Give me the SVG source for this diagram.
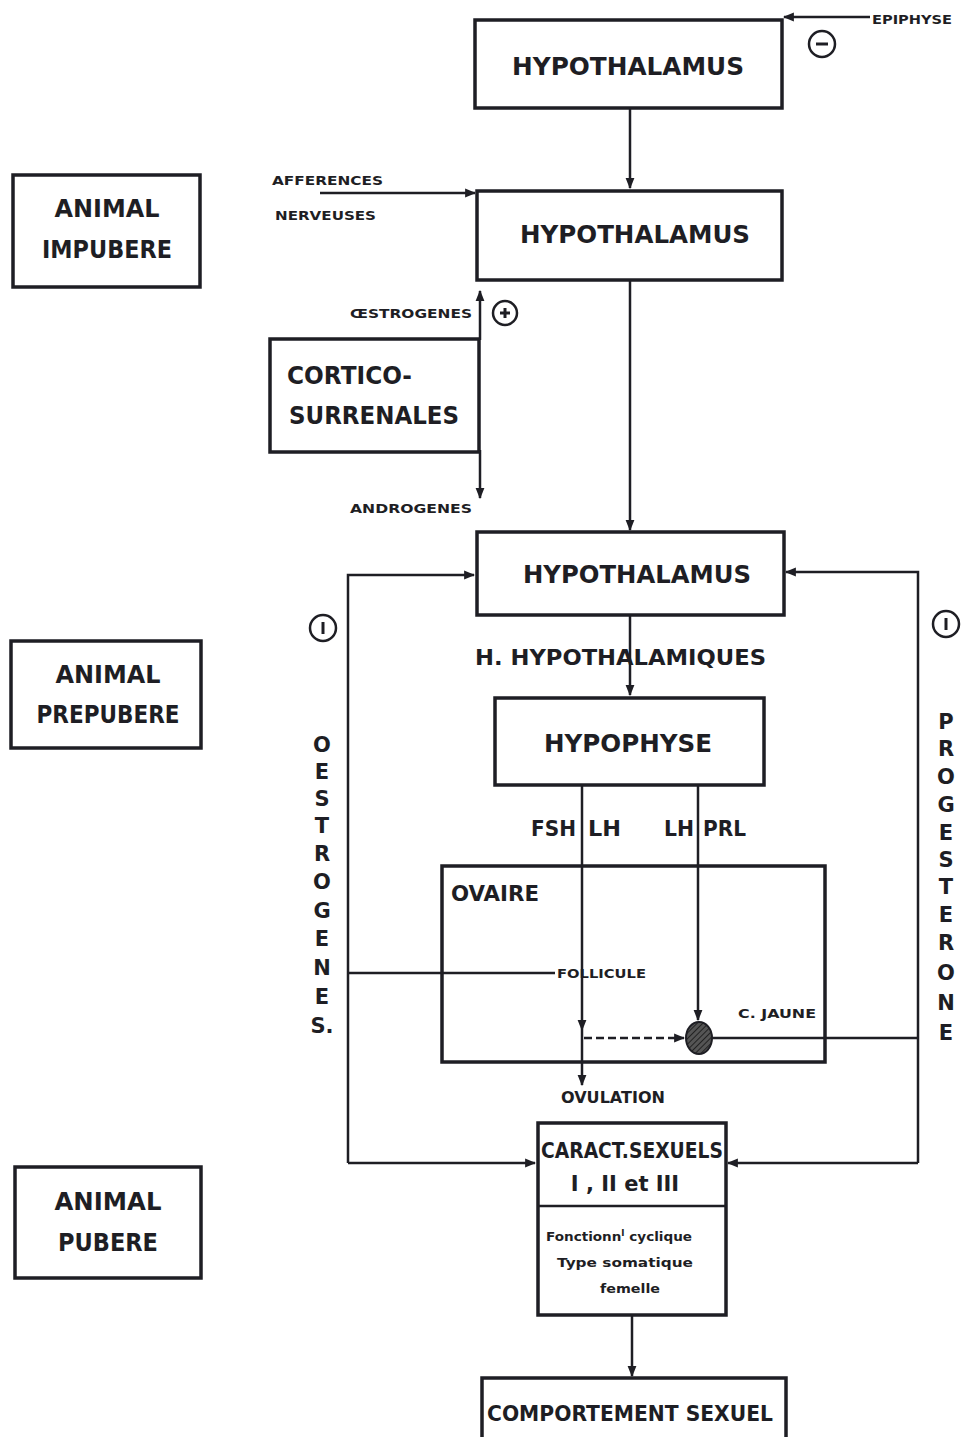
<svg xmlns="http://www.w3.org/2000/svg" width="962" height="1437" viewBox="0 0 962 1437">
<style>
.box{fill:none;stroke:#1e1e24;stroke-width:3.5}
.ln{fill:none;stroke:#1e1e24;stroke-width:2.5}
.t{font-family:"DejaVu Sans","Liberation Sans",sans-serif;font-weight:bold;fill:#1e1e24}
.big{font-size:25px}
.mid{font-size:21px}
.sm{font-size:15px}
.xs{font-size:13px}
.circ{fill:#fff;stroke:#1e1e24;stroke-width:2.5}
</style>
<defs>
<marker id="ah" viewBox="0 0 10 10" refX="9" refY="5" markerWidth="11" markerHeight="11" markerUnits="userSpaceOnUse" orient="auto">
<path d="M0,1 L10,5 L0,9 Z" fill="#1e1e24"/>
</marker>
<pattern id="hatch" width="4" height="4" patternUnits="userSpaceOnUse" patternTransform="rotate(45)">
<rect width="4" height="4" fill="#555"/>
<line x1="0" y1="0" x2="0" y2="4" stroke="#222" stroke-width="2"/>
</pattern>
</defs>
<rect width="962" height="1437" fill="#fff"/>

<g id="connectors">
<!-- epiphyse -->
<line class="ln" x1="870" y1="17" x2="784" y2="17" marker-end="url(#ah)"/>
<!-- hypo1 -> hypo2 -->
<line class="ln" x1="630" y1="108" x2="630" y2="188" marker-end="url(#ah)"/>
<!-- afferences -->
<line class="ln" x1="320" y1="193" x2="475" y2="193" marker-end="url(#ah)"/>
<!-- hypo2 -> hypo3 -->
<line class="ln" x1="630" y1="280" x2="630" y2="530" marker-end="url(#ah)"/>
<!-- oestrogenes / androgenes -->
<line class="ln" x1="480" y1="340" x2="480" y2="291" marker-end="url(#ah)"/>
<line class="ln" x1="480" y1="450" x2="480" y2="498" marker-end="url(#ah)"/>
<!-- hypo3 -> hypophyse -->
<line class="ln" x1="630" y1="615" x2="630" y2="695" marker-end="url(#ah)"/>
<!-- FSH LH line -->
<line class="ln" x1="582" y1="785" x2="582" y2="1030" marker-end="url(#ah)"/>
<line class="ln" x1="582" y1="1030" x2="582" y2="1085" marker-end="url(#ah)"/>
<!-- LH PRL line -->
<line class="ln" x1="698" y1="785" x2="698" y2="1020" marker-end="url(#ah)"/>
<!-- dashed follicle -> corpus -->
<line class="ln" x1="584" y1="1038" x2="684" y2="1038" stroke-dasharray="8,4" marker-end="url(#ah)"/>
<!-- oestrogen feedback left -->
<polyline class="ln" points="555,973 348,973"/>
<polyline class="ln" points="348,1163 348,575 474,575" marker-end="url(#ah)"/>
<line class="ln" x1="348" y1="1163" x2="535" y2="1163" marker-end="url(#ah)"/>
<!-- progesterone feedback right -->
<polyline class="ln" points="712,1038 918,1038"/>
<polyline class="ln" points="918,1163 918,572 786,572" marker-end="url(#ah)"/>
<line class="ln" x1="918" y1="1163" x2="728" y2="1163" marker-end="url(#ah)"/>
<!-- caract -> comportement -->
<line class="ln" x1="632" y1="1315" x2="632" y2="1376" marker-end="url(#ah)"/>
</g>

<g id="hypothalamus1">
<rect class="box" x="475" y="20" width="307" height="88"/>
<text class="t big" x="628" y="75" text-anchor="middle" textLength="232" lengthAdjust="spacingAndGlyphs">HYPOTHALAMUS</text>
</g>
<g id="epiphyse">
<text class="t xs" x="872" y="24" textLength="80" lengthAdjust="spacingAndGlyphs">EPIPHYSE</text>
<circle class="circ" cx="822" cy="44" r="13"/>
<line x1="816" y1="44" x2="828" y2="44" stroke="#1e1e24" stroke-width="3"/>
</g>

<g id="hypothalamus2">
<rect class="box" x="477" y="191" width="305" height="89"/>
<text class="t big" x="635" y="243" text-anchor="middle" textLength="230" lengthAdjust="spacingAndGlyphs">HYPOTHALAMUS</text>
</g>
<g id="afferences">
<text class="t xs" x="272" y="185" textLength="111" lengthAdjust="spacingAndGlyphs">AFFERENCES</text>
<text class="t xs" x="275" y="220" textLength="101" lengthAdjust="spacingAndGlyphs">NERVEUSES</text>
</g>

<g id="cortico">
<rect class="box" x="270" y="339" width="209" height="113"/>
<text class="t big" x="287" y="384" textLength="125" lengthAdjust="spacingAndGlyphs">CORTICO-</text>
<text class="t big" x="289" y="424" textLength="170" lengthAdjust="spacingAndGlyphs">SURRENALES</text>
</g>
<g id="oestrogenes-label">
<text class="t xs" x="472" y="318" text-anchor="end" textLength="122" lengthAdjust="spacingAndGlyphs">ŒSTROGENES</text>
<circle class="circ" cx="505" cy="313" r="12"/>
<line x1="500" y1="313" x2="510" y2="313" stroke="#1e1e24" stroke-width="3"/>
<line x1="505" y1="308" x2="505" y2="318" stroke="#1e1e24" stroke-width="3"/>
<text class="t xs" x="472" y="513" text-anchor="end" textLength="122" lengthAdjust="spacingAndGlyphs">ANDROGENES</text>
</g>

<g id="hypothalamus3">
<rect class="box" x="477" y="532" width="307" height="83"/>
<text class="t big" x="637" y="583" text-anchor="middle" textLength="228" lengthAdjust="spacingAndGlyphs">HYPOTHALAMUS</text>
</g>
<g id="h-hypothalamiques">
<text class="t mid" x="475" y="665" textLength="291" lengthAdjust="spacingAndGlyphs">H. HYPOTHALAMIQUES</text>
</g>

<g id="hypophyse">
<rect class="box" x="495" y="698" width="269" height="87"/>
<text class="t big" x="628" y="752" text-anchor="middle" textLength="168" lengthAdjust="spacingAndGlyphs">HYPOPHYSE</text>
</g>
<g id="hormones">
<text class="t mid" x="576" y="836" text-anchor="end" textLength="45" lengthAdjust="spacingAndGlyphs">FSH</text>
<text class="t mid" x="588" y="836" textLength="33" lengthAdjust="spacingAndGlyphs">LH</text>
<text class="t mid" x="694" y="836" text-anchor="end" textLength="30" lengthAdjust="spacingAndGlyphs">LH</text>
<text class="t mid" x="703" y="836" textLength="43" lengthAdjust="spacingAndGlyphs">PRL</text>
</g>

<g id="ovaire">
<rect class="box" x="442" y="866" width="383" height="196"/>
<text class="t mid" x="451" y="901" textLength="88" lengthAdjust="spacingAndGlyphs">OVAIRE</text>
<text class="t xs" x="557" y="978" textLength="89" lengthAdjust="spacingAndGlyphs">FOLLICULE</text>
<text class="t xs" x="738" y="1018" textLength="78" lengthAdjust="spacingAndGlyphs">C. JAUNE</text>
</g>
<g id="corps-jaune">
<ellipse cx="699" cy="1038" rx="13" ry="16" fill="url(#hatch)" stroke="#1e1e24" stroke-width="2"/>
</g>
<g id="ovulation">
<text class="t sm" x="613" y="1103" text-anchor="middle" textLength="104" lengthAdjust="spacingAndGlyphs">OVULATION</text>
</g>

<g id="oestrogenes-feedback">
<circle class="circ" cx="323" cy="628" r="13"/>
<line x1="323" y1="622" x2="323" y2="634" stroke="#1e1e24" stroke-width="3"/>
<text class="t mid" text-anchor="middle">
<tspan x="322" y="752">O</tspan><tspan x="322" y="779">E</tspan><tspan x="322" y="806">S</tspan><tspan x="322" y="833">T</tspan><tspan x="322" y="861">R</tspan><tspan x="322" y="889">O</tspan><tspan x="322" y="918">G</tspan><tspan x="322" y="946">E</tspan><tspan x="322" y="975">N</tspan><tspan x="322" y="1004">E</tspan><tspan x="322" y="1033">S.</tspan>
</text>
</g>

<g id="progesterone-feedback">
<circle class="circ" cx="946" cy="624" r="13"/>
<line x1="946" y1="618" x2="946" y2="630" stroke="#1e1e24" stroke-width="3"/>
<text class="t mid" text-anchor="middle">
<tspan x="946" y="729">P</tspan><tspan x="946" y="756">R</tspan><tspan x="946" y="784">O</tspan><tspan x="946" y="812">G</tspan><tspan x="946" y="840">E</tspan><tspan x="946" y="867">S</tspan><tspan x="946" y="894">T</tspan><tspan x="946" y="922">E</tspan><tspan x="946" y="950">R</tspan><tspan x="946" y="980">O</tspan><tspan x="946" y="1010">N</tspan><tspan x="946" y="1040">E</tspan>
</text>
</g>

<g id="caract">
<rect class="box" x="538" y="1123" width="188" height="192"/>
<line class="ln" x1="538" y1="1206" x2="726" y2="1206"/>
<text class="t mid" x="632" y="1158" text-anchor="middle" textLength="182" lengthAdjust="spacingAndGlyphs">CARACT.SEXUELS</text>
<text class="t mid" x="625" y="1191" text-anchor="middle" font-family="Liberation Serif,serif">I , II et III</text>
<text class="t xs" x="619" y="1241" text-anchor="middle" textLength="146" lengthAdjust="spacingAndGlyphs">Fonctionn<tspan dy="-5" font-size="9">l</tspan><tspan dy="5">  cyclique</tspan></text>
<text class="t xs" x="625" y="1267" text-anchor="middle" textLength="136" lengthAdjust="spacingAndGlyphs">Type somatique</text>
<text class="t xs" x="630" y="1293" text-anchor="middle" textLength="60" lengthAdjust="spacingAndGlyphs">femelle</text>
</g>

<g id="comportement">
<rect class="box" x="482" y="1378" width="304" height="70"/>
<text class="t mid" x="630" y="1421" text-anchor="middle" textLength="286" lengthAdjust="spacingAndGlyphs">COMPORTEMENT SEXUEL</text>
</g>

<g id="animal-impubere">
<rect class="box" x="13" y="175" width="187" height="112"/>
<text class="t big" x="107" y="217" text-anchor="middle" textLength="105" lengthAdjust="spacingAndGlyphs">ANIMAL</text>
<text class="t big" x="107" y="258" text-anchor="middle" textLength="130" lengthAdjust="spacingAndGlyphs">IMPUBERE</text>
</g>
<g id="animal-prepubere">
<rect class="box" x="11" y="641" width="190" height="107"/>
<text class="t big" x="108" y="683" text-anchor="middle" textLength="105" lengthAdjust="spacingAndGlyphs">ANIMAL</text>
<text class="t big" x="108" y="723" text-anchor="middle" textLength="143" lengthAdjust="spacingAndGlyphs">PREPUBERE</text>
</g>
<g id="animal-pubere">
<rect class="box" x="15" y="1167" width="186" height="111"/>
<text class="t big" x="108" y="1210" text-anchor="middle" textLength="107" lengthAdjust="spacingAndGlyphs">ANIMAL</text>
<text class="t big" x="108" y="1251" text-anchor="middle" textLength="100" lengthAdjust="spacingAndGlyphs">PUBERE</text>
</g>
</svg>
